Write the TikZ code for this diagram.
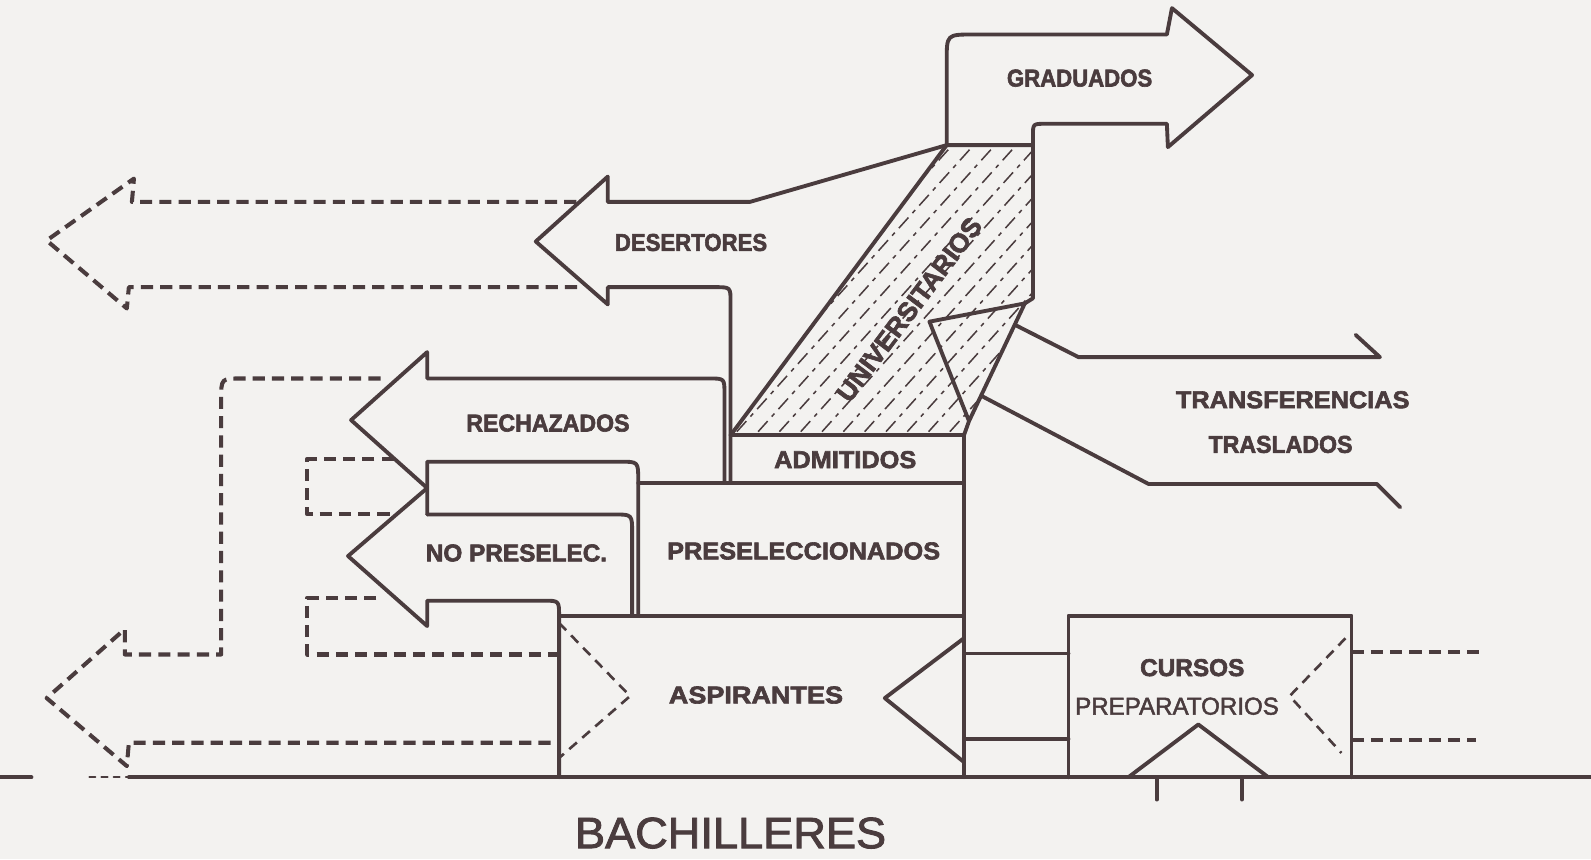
\documentclass[tikz,border=0pt]{standalone}
\usepackage{fontspec}
\setmainfont{Liberation Sans}
\newfontfamily\lblfont{Liberation Sans Bold}[FakeBold=2.5]
\newfontfamily\regfont{Liberation Sans}[FakeBold=2]
\usepackage{graphicx}
\definecolor{ink}{HTML}{4A3C3E}
\definecolor{paper}{HTML}{F3F2F0}
\tikzset{
 ln/.style={draw=ink, line width=1.9pt, line join=round, line cap=round},
 dl/.style={draw=ink, line width=2pt, dash pattern=on 6pt off 3.5pt, line join=round},
 tdl/.style={draw=ink, line width=1.3pt, dash pattern=on 5pt off 3.5pt},
 hatch/.style={draw=ink, line width=0.75pt, dash pattern=on 7pt off 3pt on 2pt off 3pt},
 lab/.style={text=ink, inner sep=0pt, font=\fontsize{12}{14}\lblfont},
}
\newcommand{\sx}[2]{\scalebox{#1}[1]{#2}}
\begin{document}
\begin{tikzpicture}[x=0.5pt,y=-0.5pt]
\fill[paper] (0,0) rectangle (1568,847);
\useasboundingbox (0,0) rectangle (1568,847);

% hatching of UNIVERSITARIOS
\begin{scope}
\clip (720,429) -- (933,143) -- (1018,143) -- (1018,294) -- (1010,299) -- (955,415) -- (950,429) -- cycle;
\foreach \k in {0,...,19} \draw[hatch] ({560+\k*21},470) -- ++(400,-444);
\end{scope}

% baseline
\draw[ln] (0,766) -- (31,766);
\draw[ln, line width=1pt, dash pattern=on 3pt off 3pt] (88,766) -- (127,766);
\draw[ln] (127,766) -- (1568,766);
\draw[ln] (1140,766) -- (1140,788);
\draw[ln] (1224,766) -- (1224,788);

% top-left dashed arrow
\draw[dl] (568,199) -- (130,199) -- (132,176) -- (46,237) -- (125,304) -- (127,283) -- (575,283);

% DESERTORES
\draw[ln] (933,143) -- (739,199) -- (599,199) -- (599,174) -- (528,238) -- (599,300) -- (599,283) -- (705,283) .. controls (720,283) .. (720,298) -- (720,476);

% GRADUADOS
\draw[ln] (933,143) -- (933,60) .. controls (933,34) .. (959,34) -- (1150,34) -- (1155,8) -- (1234,74) -- (1151,145) -- (1150,122) -- (1030,122) .. controls (1018,122) .. (1018,134) -- (1018,294) -- (1010,299);

% UNIVERSITARIOS parallelogram left edge and small triangle
\draw[ln] (720,429) -- (933,143) -- (1018,143);
\draw[ln] (916,317) -- (1010,299) -- (955,415) -- cycle;

% TRANSFERENCIAS / TRASLADOS
\draw[ln] (1000,320) -- (1063,352) -- (1360,352) -- (1336,330);
\draw[ln] (967,390) -- (1132,477) -- (1357,477) -- (1380,500);

% RECHAZADOS
\draw[ln] (714,476) -- (714,388) .. controls (714,373) .. (699,373) -- (421,373) -- (421,347) -- (346,414) -- (421,481);
\draw[ln] (421,507) -- (421,455) -- (611,455) .. controls (629,455) .. (629,473) -- (629,607);

% NO PRESELEC
\draw[ln] (421,481) -- (343,548) -- (421,617) -- (421,592) -- (536,592) .. controls (551,592) .. (551,607) -- (551,766);
\draw[ln] (421,507) -- (605,507) .. controls (623,507) .. (623,525) -- (623,607);

% boxes
\draw[ln] (720,429) -- (950,429);
\draw[ln] (629,476) -- (950,476);
\draw[ln] (551,607) -- (950,607);
\draw[ln] (950,766) -- (950,429) -- (955,415);
\draw[ln] (950,629) -- (872,688) -- (950,751);
\draw[ln] (950,644) -- (1053,644);
\draw[ln] (950,728) -- (1053,728);
\draw[ln] (1053,766) -- (1053,607) -- (1332,607) -- (1332,766);
\draw[ln] (1112,766) -- (1181,714) -- (1250,766);

% dashed pieces
\draw[tdl] (551,614) -- (621,686) -- (551,747);
\draw[tdl] (1326,629) -- (1271,686) -- (1322,742);
\draw[dl] (1332,643) -- (1465,643);
\draw[dl] (1332,729) -- (1455,729);
\draw[dl] (388,452) -- (303,452) -- (303,507) -- (386,507);
\draw[dl] (371,589) -- (303,589) -- (303,645) -- (551,645);
\draw[dl] (375,373) -- (238,373) .. controls (218,373) .. (218,393) -- (218,645) -- (123,645) -- (123,620) -- (46,688) -- (125,755) -- (127,732) -- (551,732);

% labels
\node[lab] (grad) at (1064,77) {\sx{0.91}{GRADUADOS}};
\node[lab] (des) at (681,239) {\sx{0.91}{DESERTORES}};
\node[lab] (rech) at (540,417) {\sx{0.95}{RECHAZADOS}};
\node[lab] (adm) at (833,453) {\sx{1.04}{ADMITIDOS}};
\node[lab] (nop) at (509,545) {\sx{1.0}{NO PRESELEC.}};
\node[lab] (pre) at (792,543) {\sx{1.04}{PRESELECCIONADOS}};
\node[lab] (asp) at (745,685) {\sx{1.11}{ASPIRANTES}};
\node[lab] (tra) at (1274,394) {\sx{1.04}{TRANSFERENCIAS}};
\node[lab] (tras) at (1262,438) {\sx{0.95}{TRASLADOS}};
\node[lab] (cur) at (1175,658) {\sx{1.0}{CURSOS}};
\node[text=ink, inner sep=0pt, font=\fontsize{12}{14}\regfont] (prep) at (1160,696) {\sx{0.99}{PREPARATORIOS}};
\node[lab, font=\fontsize{13}{15}\lblfont, rotate=53] (uni) at (896,305) {\sx{1.0}{UNIVERSITARIOS}};
\node[text=ink, inner sep=0pt, font=\fontsize{21.6}{24}\regfont] (bach) at (720,821) {\sx{1.03}{BACHILLERES}};
\end{tikzpicture}
\end{document}
